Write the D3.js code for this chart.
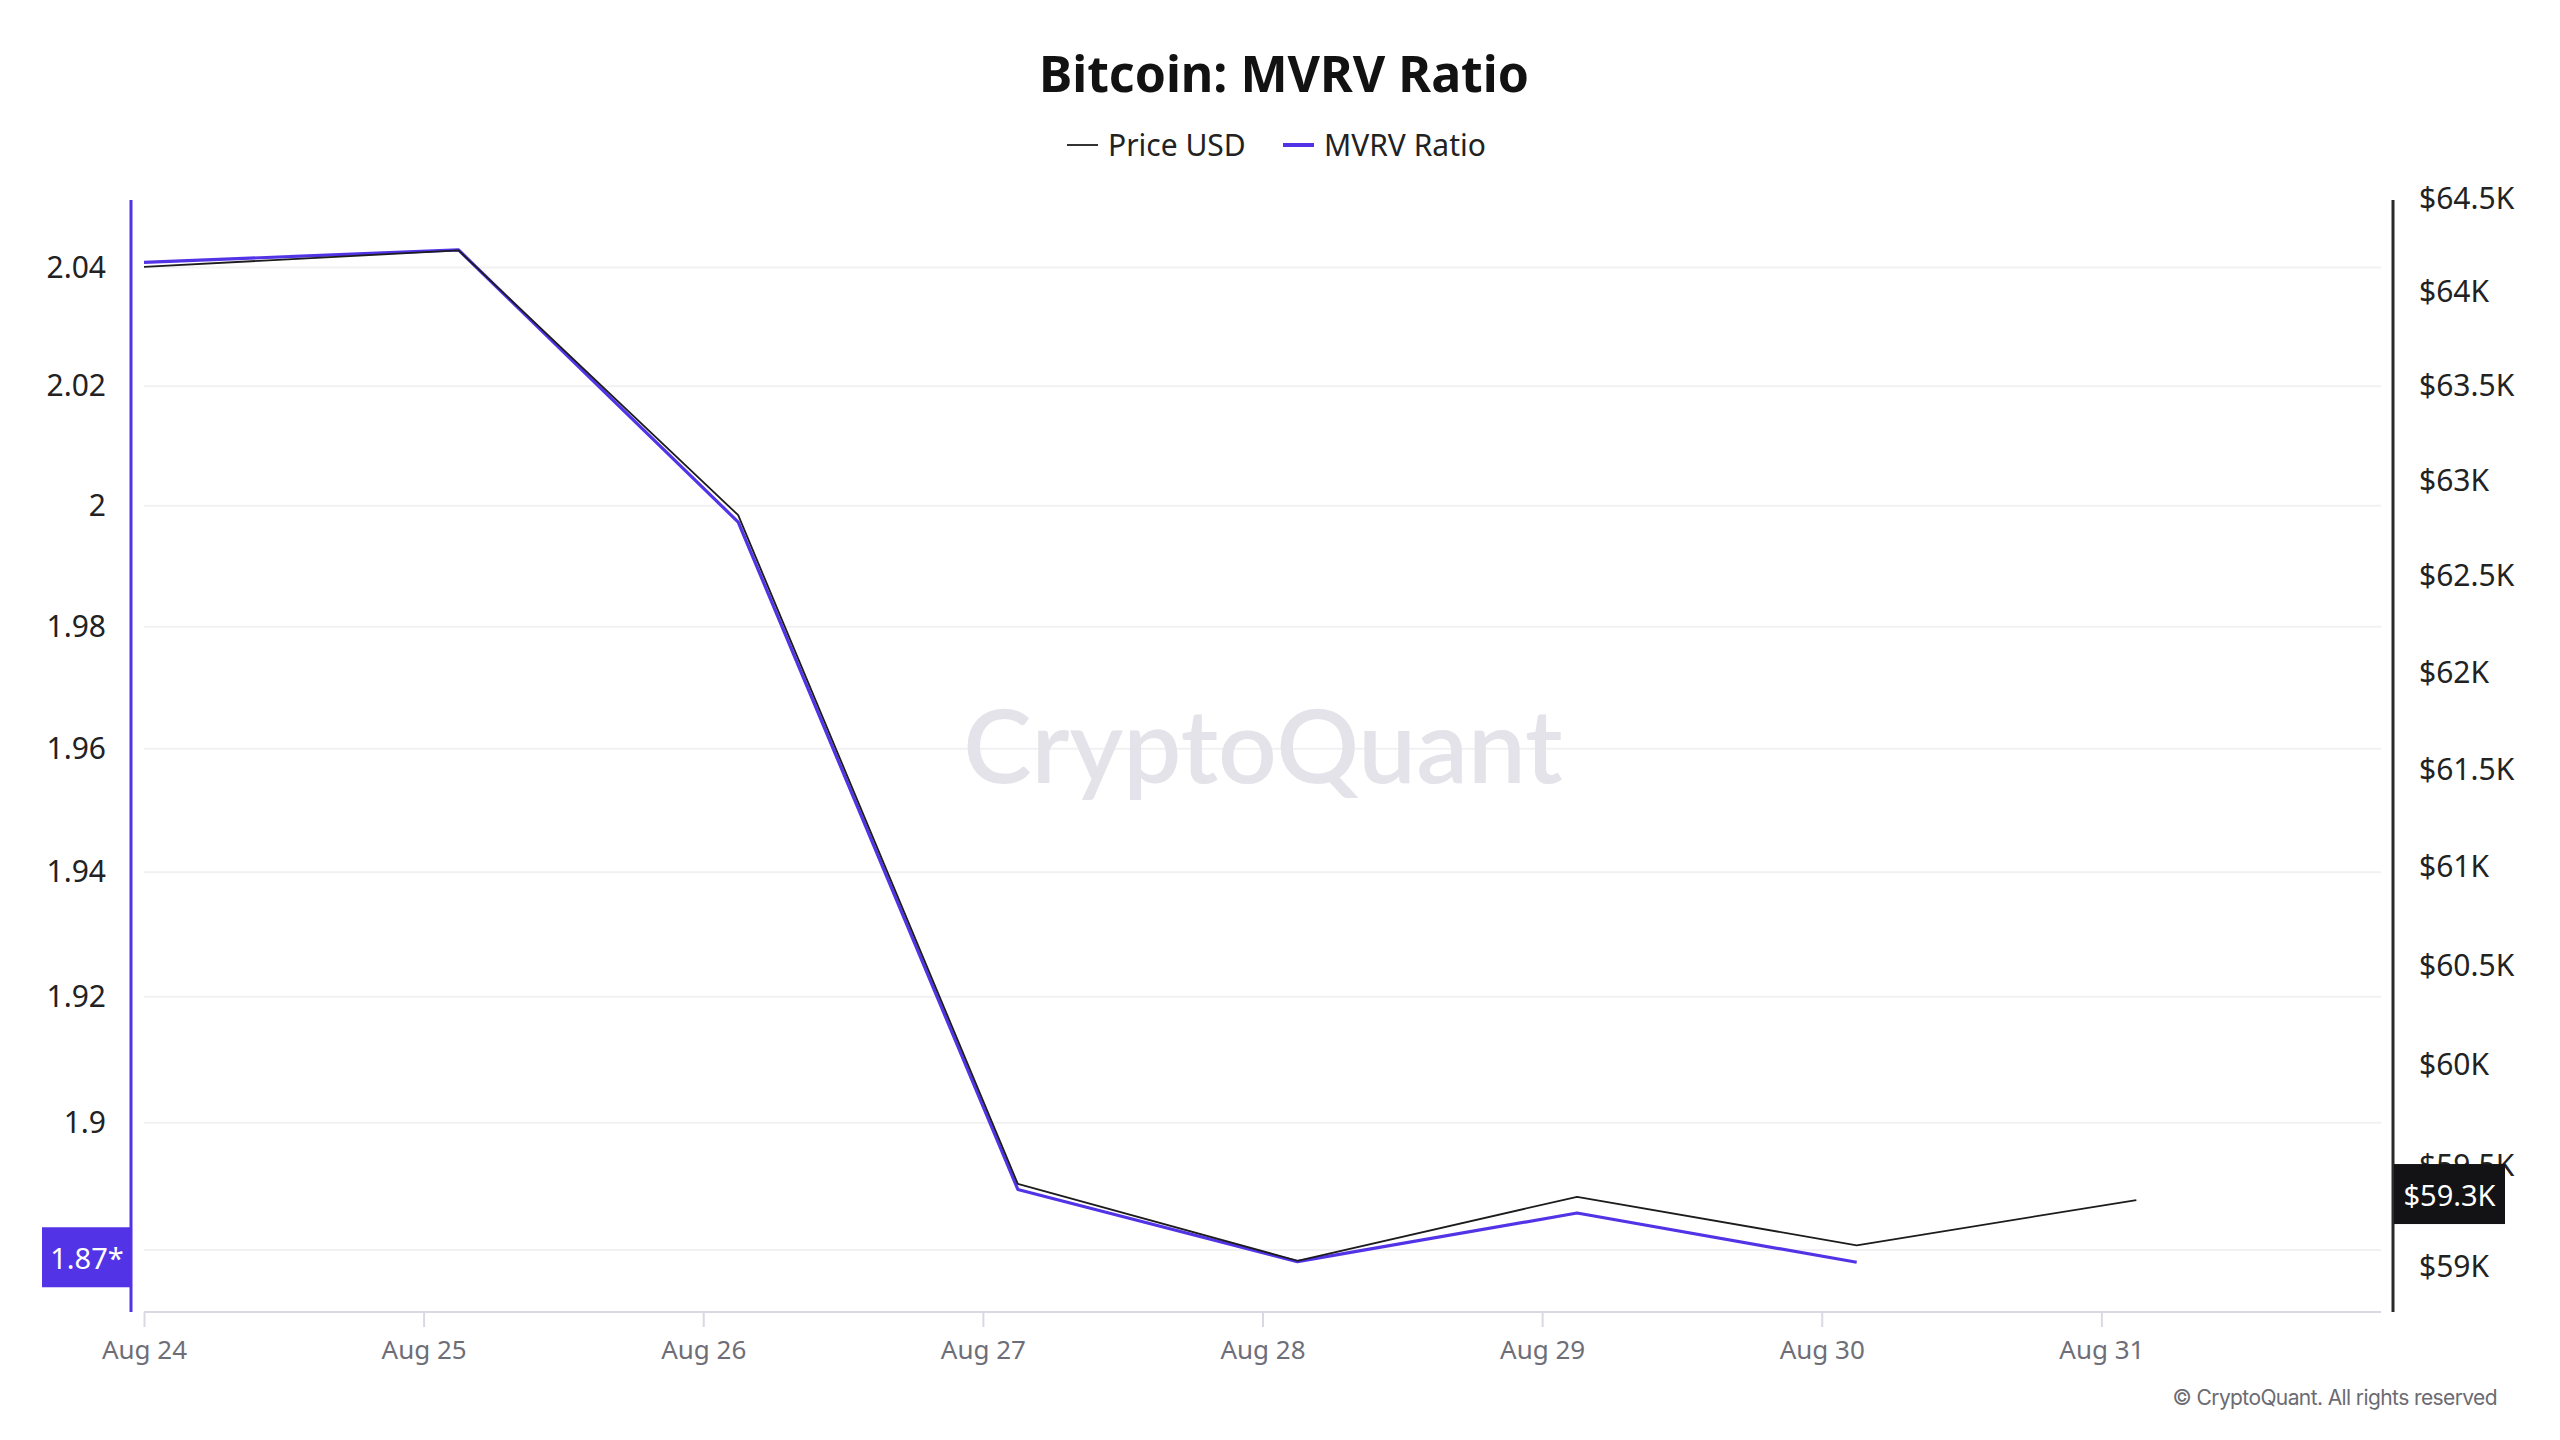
<!DOCTYPE html>
<html>
<head>
<meta charset="utf-8">
<script src="https://cdn.jsdelivr.net/npm/d3@7"></script>
<style>
  html, body { margin: 0; padding: 0; background: #ffffff; }
  svg { display: block; font-family: "Noto Sans", "Open Sans", sans-serif; }
</style>
</head>
<body>
<svg id="chart" width="2560" height="1440"></svg>
<script>
// ---- data ----
const dates = ["2024-08-24T00:00Z", "2024-08-25T03:00Z", "2024-08-26T03:00Z", "2024-08-27T03:00Z",
               "2024-08-28T03:00Z", "2024-08-29T03:00Z", "2024-08-30T03:00Z", "2024-08-31T03:00Z"];
const mvrvValues  = [2.0409, 2.0430, 1.9973, 1.8895, 1.8782, 1.8858, 1.8781, null];
const priceValues = [64136, 64224, 62820, 59409, 59029, 59345, 59105, 59329];
const xTickDates  = ["2024-08-24", "2024-08-25", "2024-08-26", "2024-08-27",
                     "2024-08-28", "2024-08-29", "2024-08-30", "2024-08-31"];
const leftTicks   = [1.88, 1.9, 1.92, 1.94, 1.96, 1.98, 2, 2.02, 2.04];
const rightTicks  = [59000, 59500, 60000, 60500, 61000, 61500, 62000, 62500, 63000, 63500, 64000, 64500];
const titleText   = "Bitcoin: MVRV Ratio";
const seriesNames = ["Price USD", "MVRV Ratio"];

// ---- layout ----
const W = 2560, H = 1440;
const plotL = 144, plotR = 2381, plotT = 200, plotB = 1312;
const leftAxisX = 131, rightAxisX = 2393;
const PURPLE = "#5233e6", DARK = "#1c1c1e";

const svg = d3.select("#chart");

const parseDate = d3.utcParse("%Y-%m-%dT%H:%MZ");
const parseDay = d3.utcParse("%Y-%m-%d");
const pts = dates.map((d, i) => ({ t: parseDate(d), mvrv: mvrvValues[i], price: priceValues[i] }));

const x = d3.scaleUtc()
  .domain([parseDay("2024-08-24"), parseDay("2024-09-01")])
  .range([plotL, plotR]);
const yL = d3.scaleLog().domain([1.87035, 2.0515]).range([plotB, plotT]);
const yR = d3.scaleLog().domain([58777, 64495]).range([plotB, plotT]);

const lastM = pts.filter(d => d.mvrv != null).slice(-1)[0];
const lastP = pts.filter(d => d.price != null).slice(-1)[0];
const mY = yL(lastM.mvrv) - 5;
const pY = yR(lastP.price) - 6;

// ---- title ----
svg.append("text")
  .attr("x", 1284).attr("y", 73)
  .attr("text-anchor", "middle").attr("dominant-baseline", "central")
  .attr("font-size", 50).attr("font-weight", 700).attr("fill", "#121212")
  .text(titleText);

// ---- legend ----
const legend = svg.append("g");
const legItems = [
  { name: seriesNames[0], color: "#333", w: 2, x0: 1067 },
  { name: seriesNames[1], color: PURPLE, w: 4, x0: 1283 }
];
legItems.forEach(it => {
  legend.append("line").attr("x1", it.x0).attr("x2", it.x0 + 31)
    .attr("y1", 145).attr("y2", 145).attr("stroke", it.color).attr("stroke-width", it.w);
  legend.append("text").attr("x", it.x0 + 41).attr("y", 144)
    .attr("dominant-baseline", "central").attr("font-size", 30).attr("fill", "#222")
    .text(it.name);
});

// ---- gridlines ----
svg.append("g").selectAll("line").data(leftTicks).join("line")
  .attr("x1", plotL).attr("x2", plotR)
  .attr("y1", d => yL(d)).attr("y2", d => yL(d))
  .attr("stroke", "#f1f1f3").attr("stroke-width", 2);

// ---- watermark ----
svg.append("text")
  .attr("x", 1263).attr("y", 783)
  .attr("text-anchor", "middle")
  .attr("font-size", 103).attr("font-weight", 600)
  .attr("fill", "#e3e3e9")
  .attr("font-family", "Lato, 'Noto Sans', sans-serif")
  .text("CryptoQuant");

// ---- x axis ----
const xAxis = d3.axisBottom(x)
  .tickValues(xTickDates.map(parseDay))
  .tickFormat(d3.utcFormat("%b %-d"))
  .tickSize(15).tickPadding(14);
const gx = svg.append("g").attr("transform", `translate(0,${plotB})`).call(xAxis);
gx.select(".domain").attr("stroke", "#d9d9e3").attr("stroke-width", 2)
  .attr("d", `M${plotL},0H${plotR}`);
gx.selectAll(".tick line").attr("stroke", "#d9d9e3").attr("stroke-width", 2);
gx.selectAll(".tick text").attr("font-size", 26).attr("fill", "#6e6e78")
  .attr("font-family", "'Noto Sans', sans-serif");

// ---- left axis (labels hidden where the latest-value badge covers them) ----
const leftAxis = d3.axisLeft(yL).tickValues(leftTicks)
  .tickFormat(d => Math.abs(yL(d) - mY) < 40 ? "" : String(+d.toFixed(2)))
  .tickSize(0).tickPadding(25);
const gl = svg.append("g").attr("transform", `translate(${leftAxisX},0)`).call(leftAxis);
gl.select(".domain").attr("stroke", PURPLE).attr("stroke-width", 3)
  .attr("d", `M0,${plotT}V${plotB}`);
gl.selectAll(".tick text").attr("font-size", 30).attr("fill", "#222")
  .attr("font-family", "'Noto Sans', sans-serif");

// ---- right axis ----
const rightAxis = d3.axisRight(yR).tickValues(rightTicks)
  .tickFormat(d => "$" + (d / 1000) + "K").tickSize(0).tickPadding(26);
const gr = svg.append("g").attr("transform", `translate(${rightAxisX},0)`).call(rightAxis);
gr.select(".domain").attr("stroke", "#2a2a2a").attr("stroke-width", 3)
  .attr("d", `M0,${plotT}V${plotB}`);
gr.selectAll(".tick text").attr("font-size", 30).attr("fill", "#222")
  .attr("font-family", "'Noto Sans', sans-serif");

// ---- lines ----
svg.append("clipPath").attr("id", "plotclip")
  .append("rect").attr("x", plotL).attr("y", plotT - 10)
  .attr("width", plotR - plotL).attr("height", plotB - plotT + 10);

const mvrvLine = d3.line().defined(d => d.mvrv != null)
  .x(d => x(d.t)).y(d => yL(d.mvrv));
const priceLine = d3.line().defined(d => d.price != null)
  .x(d => x(d.t)).y(d => yR(d.price));

svg.append("path").datum(pts)
  .attr("clip-path", "url(#plotclip)")
  .attr("d", mvrvLine).attr("fill", "none")
  .attr("stroke", PURPLE).attr("stroke-width", 3.2).attr("stroke-linejoin", "round");
svg.append("path").datum(pts)
  .attr("clip-path", "url(#plotclip)")
  .attr("d", priceLine).attr("fill", "none")
  .attr("stroke", DARK).attr("stroke-width", 1.8).attr("stroke-linejoin", "round");

// ---- latest value badges ----
svg.append("rect").attr("x", 42).attr("y", mY - 30).attr("width", 90).attr("height", 60)
  .attr("fill", PURPLE);
svg.append("text").attr("x", 87).attr("y", mY)
  .attr("text-anchor", "middle").attr("dominant-baseline", "central")
  .attr("font-size", 29).attr("fill", "#fff")
  .text((Math.floor(lastM.mvrv * 100) / 100).toFixed(2) + "*");

svg.append("rect").attr("x", 2394).attr("y", pY - 30).attr("width", 111).attr("height", 60)
  .attr("fill", "#131316");
svg.append("text").attr("x", 2449.5).attr("y", pY)
  .attr("text-anchor", "middle").attr("dominant-baseline", "central")
  .attr("font-size", 29).attr("fill", "#fff")
  .text("$" + (lastP.price / 1000).toFixed(1) + "K");

// ---- copyright ----
svg.append("text")
  .attr("x", 2497).attr("y", 1397)
  .attr("text-anchor", "end").attr("dominant-baseline", "central")
  .attr("font-size", 21).attr("fill", "#6b6b72")
  .attr("font-family", "Inter, 'Noto Sans', sans-serif")
  .attr("letter-spacing", -0.6)
  .text("© CryptoQuant. All rights reserved");
</script>
</body>
</html>
